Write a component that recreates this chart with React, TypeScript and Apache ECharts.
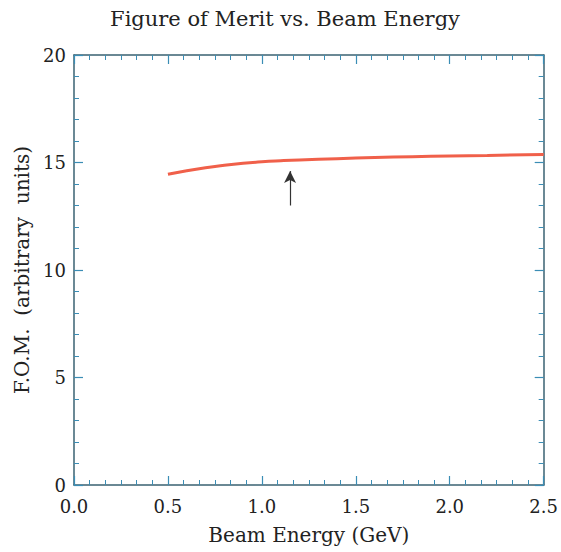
import React, { useEffect, useRef } from "react";
import * as echarts from "echarts";

const energy = [0.5, 0.6, 0.7, 0.8, 0.9, 1.0, 1.1, 1.2, 1.4, 1.6, 1.8, 2.0, 2.2, 2.5];
const fom = [14.45, 14.62, 14.76, 14.87, 14.96, 15.03, 15.08, 15.12, 15.18, 15.23, 15.27, 15.3, 15.33, 15.37];
const arrowX = 1.15;
const arrowFrom = 13.0;
const arrowTo = 14.6;

const FONT = "DejaVu Serif";
const AXIS_COLOR = "#3a6272";
const TICK_COLOR = "#3b8db5";

export default function App() {
  const ref = useRef<HTMLDivElement>(null);
  useEffect(() => {
    document.body.style.margin = "0";
    if (!ref.current) return;
    const chart = echarts.init(ref.current, undefined, { renderer: "svg" });
    const xBase = {
      type: "value" as const,
      min: 0,
      max: 2.5,
      interval: 0.5,
      axisLine: { show: true, onZero: false, lineStyle: { color: AXIS_COLOR, width: 1.5 } },
      axisTick: { show: true, inside: true, length: 9, lineStyle: { color: TICK_COLOR, width: 1.2 } },
      minorTick: { show: true, splitNumber: 6, length: 5, lineStyle: { color: TICK_COLOR, width: 1 } },
      splitLine: { show: false },
      minorSplitLine: { show: false },
    };
    const yBase = {
      type: "value" as const,
      min: 0,
      max: 20,
      interval: 5,
      axisLine: { show: true, onZero: false, lineStyle: { color: AXIS_COLOR, width: 1.5 } },
      axisTick: { show: true, inside: true, length: 9, lineStyle: { color: TICK_COLOR, width: 1.2 } },
      minorTick: { show: true, splitNumber: 5, length: 5, lineStyle: { color: TICK_COLOR, width: 1 } },
      splitLine: { show: false },
      minorSplitLine: { show: false },
    };
    chart.setOption({
      animation: false,
      backgroundColor: "#ffffff",
      title: {
        text: "Figure of Merit vs. Beam Energy",
        left: 280,
        textAlign: "center",
        top: 3,
        textStyle: { fontFamily: FONT, fontSize: 21, fontWeight: "normal", color: "#222" },
      },
      grid: { left: 74, right: 16, top: 55, bottom: 67 },
      xAxis: [
        {
          ...xBase,
          position: "bottom",
          name: "Beam Energy (GeV)",
          nameLocation: "middle",
          nameGap: 40,
          nameTextStyle: { fontFamily: FONT, fontSize: 20, color: "#222" },
          axisLabel: {
            fontFamily: FONT,
            fontSize: 18,
            color: "#222",
            margin: 12,
            formatter: (v: number) => v.toFixed(1),
          },
        },
        { ...xBase, position: "top", axisLabel: { show: false } },
      ],
      yAxis: [
        {
          ...yBase,
          position: "left",
          name: "F.O.M.  (arbitrary  units)",
          nameLocation: "middle",
          nameGap: 42,
          nameRotate: 90,
          nameTextStyle: { fontFamily: FONT, fontSize: 20, color: "#222" },
          axisLabel: { fontFamily: FONT, fontSize: 18, color: "#222", margin: 8 },
        },
        { ...yBase, position: "right", axisLabel: { show: false } },
      ],
      series: [
        {
          type: "line",
          xAxisIndex: 0,
          yAxisIndex: 0,
          data: energy.map((e, i) => [e, fom[i]]),
          smooth: true,
          showSymbol: false,
          lineStyle: { color: "#f0604a", width: 3 },
          markLine: {
            silent: true,
            symbol: ["none", "arrow"],
            symbolSize: [9, 12],
            label: { show: false },
            lineStyle: { color: "#333", width: 1.2, type: "solid" },
            data: [[{ coord: [arrowX, arrowFrom] }, { coord: [arrowX, arrowTo] }]],
          },
        },
      ],
    });
    return () => chart.dispose();
  }, []);
  return <div ref={ref} style={{ width: 561, height: 552 }} />;
}
